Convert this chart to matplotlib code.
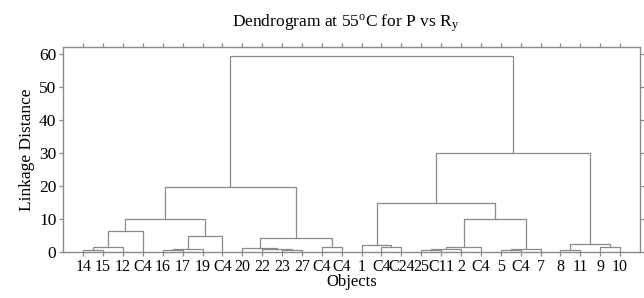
import matplotlib
matplotlib.use("Agg")
import matplotlib.pyplot as plt

plt.rcParams['font.family'] = ['Liberation Serif', 'DejaVu Serif']
plt.rcParams['mathtext.fontset'] = 'custom'
plt.rcParams['mathtext.rm'] = 'Liberation Serif'
plt.rcParams['mathtext.it'] = 'Liberation Serif:italic'

# leaf labels in dendrogram order
labels = ['14', '15', '12', 'C4', '16', '17', '19', 'C4', '20', '22', '23', '27', 'C4', 'C4',
          '1', 'C4', 'C24', '25', 'C11', '2', 'C4', '5', 'C4', '7', '8', '11', '9', '10']

# merges: node ids < 28 are leaves, id 28 + k is the k-th merge
merge_left = [0, 28, 29, 4, 31, 32, 30, 10, 9, 8, 12, 37, 34,
              15, 14, 17, 43, 44, 21, 46, 45, 42, 24, 26, 50, 49, 40]
merge_right = [1, 2, 3, 5, 6, 7, 33, 11, 35, 36, 13, 38, 39,
               16, 41, 18, 19, 20, 22, 23, 47, 48, 25, 27, 51, 52, 53]
merge_height = [0.8, 1.6, 6.5, 0.9, 1.2, 5.0, 10.0, 0.9, 1.2, 1.4, 1.7, 4.3, 19.7,
                1.6, 2.4, 0.7, 1.0, 1.7, 0.9, 1.0, 10.0, 15.1, 0.8, 1.6, 2.7, 30.2, 59.5]

yticks = [0, 10, 20, 30, 40, 50, 60]

line_col = '#8a8a8a'

fig = plt.figure(figsize=(6.44, 2.98), dpi=100)
ax = fig.add_axes([0.0983, 0.1527, 0.8955, 0.6896])

n = len(labels)
xpos = {i: float(i) for i in range(n)}
ypos = {i: 0.0 for i in range(n)}
for k, (a, b, h) in enumerate(zip(merge_left, merge_right, merge_height)):
    ax.plot([xpos[a], xpos[a], xpos[b], xpos[b]], [ypos[a], h, h, ypos[b]],
            color=line_col, lw=0.9, solid_joinstyle='miter')
    xpos[n + k] = (xpos[a] + xpos[b]) / 2
    ypos[n + k] = h

ax.set_xlim(-1, n)
ax.set_ylim(0, 62.1)
ax.set_xticks(range(n))
ax.set_xticklabels(labels, fontsize=11.5)
ax.set_yticks(yticks)
ax.set_yticklabels([str(v) for v in yticks], fontsize=12.5)
ax.tick_params(axis='both', direction='out', length=3, width=0.9, color=line_col, pad=2)
ax.tick_params(top=True, right=True, labeltop=False, labelright=False)
for s in ax.spines.values():
    s.set_color(line_col)
    s.set_linewidth(1.0)

ax.set_xlabel('Objects', fontsize=12, labelpad=-1)
ax.set_ylabel('Linkage Distance', fontsize=12.5, labelpad=3)
ax.set_title(r'Dendrogram at 55$^\mathrm{o}$C for P vs R$_\mathrm{y}$', fontsize=12.5, pad=15, x=0.49)

fig.savefig('out.png', dpi=100)
